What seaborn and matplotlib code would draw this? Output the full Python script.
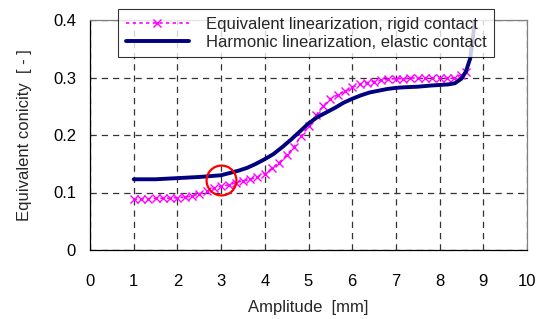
import matplotlib as mpl
import matplotlib.pyplot as plt
import seaborn as sns
import pandas as pd

# rigid contact, equivalent linearization (one marker per point)
rigid_x = [1.0, 1.17, 1.33, 1.5, 1.67, 1.83, 2.0, 2.17, 2.33, 2.5, 2.67, 2.83,
           3.0, 3.17, 3.33, 3.5, 3.67, 3.83, 4.0, 4.17, 4.33, 4.5, 4.67, 4.83,
           5.0, 5.17, 5.33, 5.5, 5.67, 5.83, 6.0, 6.17, 6.33, 6.5, 6.67, 6.83,
           7.0, 7.17, 7.33, 7.5, 7.67, 7.83, 8.0, 8.17, 8.33, 8.5, 8.6]
rigid_y = [0.088, 0.089, 0.089, 0.090, 0.090, 0.090, 0.091, 0.092, 0.094, 0.097, 0.102, 0.107,
           0.111, 0.113, 0.117, 0.120, 0.123, 0.127, 0.133, 0.142, 0.152, 0.165, 0.180, 0.198,
           0.215, 0.234, 0.250, 0.263, 0.270, 0.276, 0.283, 0.288, 0.291, 0.293, 0.295, 0.297,
           0.298, 0.298, 0.299, 0.299, 0.299, 0.299, 0.299, 0.299, 0.299, 0.305, 0.310]

# elastic contact, harmonic linearization
elastic_x = [1.0, 1.5, 2.0, 2.5, 3.0, 3.2, 3.4, 3.6, 3.8, 4.0, 4.2, 4.4, 4.6, 4.8,
             5.0, 5.2, 5.4, 5.6, 5.8, 6.0, 6.2, 6.4, 6.6, 6.8, 7.0, 7.2, 7.5, 7.8,
             8.0, 8.2, 8.35, 8.5, 8.6, 8.7, 8.77, 8.83]
elastic_y = [0.123, 0.123, 0.125, 0.127, 0.130, 0.134, 0.138, 0.143, 0.150, 0.158, 0.167, 0.179,
             0.192, 0.206, 0.220, 0.231, 0.239, 0.247, 0.256, 0.263, 0.269, 0.274, 0.277, 0.280,
             0.282, 0.283, 0.284, 0.286, 0.287, 0.288, 0.290, 0.298, 0.310, 0.333, 0.374, 0.415]

highlight = (3.0, 0.122)

sns.set_style("white")
plt.rcParams['font.family'] = ['Liberation Sans', 'DejaVu Sans']
FS = 12

fig = plt.figure(figsize=(5.47, 3.19), dpi=100)
ax = fig.add_axes([90 / 547, 1 - 250 / 319, 437 / 547, 230 / 319])

rigid = pd.DataFrame({"x": rigid_x, "y": rigid_y})
elastic = pd.DataFrame({"x": elastic_x, "y": elastic_y})

# seaborn's lineplot drops a plain marker kwarg, so the marked series goes through ax.plot
ax.plot(rigid["x"], rigid["y"], color="#ff00ff", linestyle=(0, (2, 2)), linewidth=1.2,
        marker="x", markersize=6, markeredgewidth=1.0,
        label="Equivalent linearization, rigid contact", zorder=3)
sns.lineplot(data=elastic, x="x", y="y", ax=ax, color="#000080", linewidth=2.8,
             label="Harmonic linearization, elastic contact", zorder=4)

ax.plot([highlight[0]], [highlight[1]], marker="o", markersize=21.5,
        markerfacecolor="none", markeredgecolor="red", markeredgewidth=1.6, zorder=5)

ax.set_xlim(0, 10)
ax.set_ylim(0, 0.4)
ax.set_xticks(range(0, 11))
ax.set_yticks([0, 0.1, 0.2, 0.3, 0.4])
ax.set_yticklabels(["0", "0.1", "0.2", "0.3", "0.4"])
ax.tick_params(length=0, labelsize=FS, colors="black")
ax.tick_params(axis="x", pad=17)
ax.tick_params(axis="y", pad=10)
ax.grid(True, color="#333333", linestyle=(0, (5, 4)), linewidth=0.9)

ax.spines['left'].set_color("black")
ax.spines['bottom'].set_color("black")
ax.spines['top'].set_color("#808080")
ax.spines['right'].set_color("#808080")
for s in ax.spines.values():
    s.set_linewidth(0.9)

ax.set_xlabel("Amplitude  [mm]", fontsize=FS, labelpad=8)
ax.set_ylabel("Equivalent conicity  [ - ]", fontsize=FS, labelpad=15)

leg = ax.legend(loc="upper left", bbox_to_anchor=(118 / 547, 1 - 9 / 319),
                bbox_transform=fig.transFigure, frameon=True, fancybox=False,
                fontsize=FS, numpoints=1, handlelength=3.8, borderpad=0.45,
                labelspacing=0.2, handletextpad=1.0, borderaxespad=0)
leg.get_frame().set_edgecolor("black")
leg.get_frame().set_linewidth(0.8)
leg.set_zorder(10)

fig.savefig("out.png", dpi=100)
